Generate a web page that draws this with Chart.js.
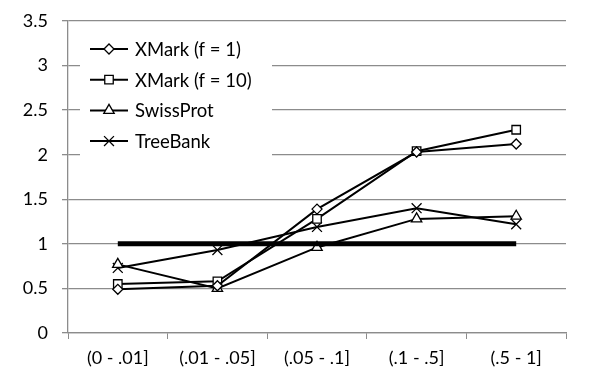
<!DOCTYPE html>
<html>
<head>
<meta charset="utf-8">
<script src="https://cdn.jsdelivr.net/npm/chart.js@4"></script>
<style>
  html, body { margin: 0; padding: 0; background: #fff; }
  #wrap { width: 602px; height: 377px; }
</style>
</head>
<body>
<div id="wrap"><canvas id="c" width="602" height="377"></canvas></div>
<script>
const categories = ["(0 - .01]", "(.01 - .05]", "(.05 - .1]", "(.1 - .5]", "(.5 - 1]"];
const xmark1 = [0.49, 0.53, 1.39, 2.03, 2.12];
const xmark10 = [0.55, 0.58, 1.28, 2.04, 2.28];
const swissProt = [0.77, 0.50, 0.96, 1.28, 1.31];
const treeBank = [0.73, 0.93, 1.19, 1.40, 1.22];
const baseline = [1, 1, 1, 1, 1];
const yTicks = [0, 0.5, 1, 1.5, 2, 2.5, 3, 3.5];

const FONT = "Lato, 'Open Sans', sans-serif";
const GRID = "#8c8c8c";

function series(label, data, style, radius, order) {
    return {
        label: label,
        data: data,
        borderColor: "#000",
        borderWidth: 2,
        pointStyle: style,
        pointRadius: radius,
        pointBorderColor: "#000",
        pointBackgroundColor: "#fff",
        pointBorderWidth: 1.3,
        tension: 0,
        order: order
    };
}

// legend drawn inside the plot, top left
const innerLegend = {
    id: "innerLegend",
    afterDraw(chart) {
        const ctx = chart.ctx;
        const area = chart.chartArea;
        const x0 = area.left + 22;
        const y0 = area.top + 28;
        ctx.save();
        ctx.fillStyle = "#fff";
        ctx.fillRect(area.left + 12, area.top + 12, 192, 126);
        ctx.font = "18.5px " + FONT;
        ctx.textBaseline = "middle";
        chart.data.datasets.forEach((ds, i) => {
            if (!ds.label) return;
            const y = y0 + i * 30.7;
            ctx.strokeStyle = "#000";
            ctx.lineWidth = 2;
            ctx.beginPath();
            ctx.moveTo(x0, y);
            ctx.lineTo(x0 + 38, y);
            ctx.stroke();
            ctx.lineWidth = ds.pointBorderWidth;
            ctx.fillStyle = "#fff";
            Chart.helpers.drawPoint(ctx, { pointStyle: ds.pointStyle, radius: ds.pointRadius, borderWidth: ds.pointBorderWidth }, x0 + 19, y);
            ctx.fillStyle = "#000";
            ctx.fillText(ds.label, x0 + 45, y + 1);
        });
        ctx.restore();
    }
};

const ctx = document.getElementById("c").getContext("2d");
new Chart(ctx, {
    type: "line",
    data: {
        labels: categories,
        datasets: [
            series("XMark (f = 1)", xmark1, "rectRot", 5, 2),
            series("XMark (f = 10)", xmark10, "rect", 6, 3),
            series("SwissProt", swissProt, "triangle", 6, 4),
            series("TreeBank", treeBank, "crossRot", 7, 5),
            {
                data: baseline,
                borderColor: "#000",
                borderWidth: 5,
                pointRadius: 0,
                tension: 0,
                order: 1
            }
        ]
    },
    options: {
        responsive: false,
        animation: false,
        layout: { padding: { top: 0, right: 36, left: 0, bottom: 0 } },
        plugins: { legend: { display: false }, tooltip: { enabled: false } },
        scales: {
            x: {
                offset: true,
                grid: { offset: true, drawOnChartArea: false, drawTicks: true, tickLength: 6, color: GRID },
                border: { color: GRID, width: 1.3 },
                ticks: { color: "#000", font: { family: FONT, size: 18 }, padding: 8, maxRotation: 0 },
                afterFit(scale) { scale.height = 44; }
            },
            y: {
                min: 0,
                max: 3.5,
                afterBuildTicks(scale) { scale.ticks = yTicks.map(v => ({ value: v })); },
                grid: { color: GRID, lineWidth: 1.3, tickLength: 6 },
                border: { color: GRID, width: 1.3 },
                ticks: {
                    color: "#000",
                    font: { family: FONT, size: 18 },
                    padding: 14,
                    callback: v => String(v)
                },
                afterFit(scale) {
                    scale.width = 68;
                    scale.paddingTop = 21;
                }
            }
        }
    },
    plugins: [innerLegend]
});
</script>
</body>
</html>
